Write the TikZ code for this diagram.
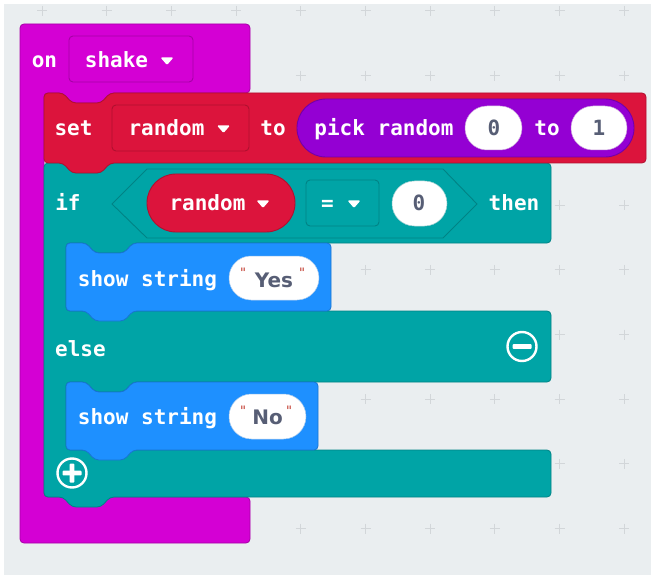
\documentclass[tikz,border=0pt]{standalone}
\usepackage{fontspec}
\newfontfamily\blkmono{DejaVu Sans Mono}
\newfontfamily\blksans{DejaVu Sans}
\definecolor{bggray}{HTML}{EAEEF0}
\definecolor{gridc}{HTML}{D2D6D9}
\definecolor{mag}{HTML}{D400D4}
\definecolor{magd}{HTML}{A600A6}
\definecolor{crim}{HTML}{DC143C}
\definecolor{crimd}{HTML}{B0102F}
\definecolor{purp}{HTML}{9400D3}
\definecolor{purpd}{HTML}{7300A8}
\definecolor{teal}{HTML}{00A4A6}
\definecolor{teald}{HTML}{008385}
\definecolor{blu}{HTML}{1E90FF}
\definecolor{blud}{HTML}{1874D0}
\definecolor{valtxt}{HTML}{575E75}
\definecolor{quot}{HTML}{C23A2E}
\tikzset{
  blk/.style={rounded corners=4pt, line width=0.8pt},
  ddbox/.style={rounded corners=4pt, line width=0.9pt},
  pilltxt/.style={text=white, font=\blkmono\bfseries\fontsize{21}{25}\selectfont, inner sep=0pt, anchor=base},
  valtext/.style={text=valtxt, font=\blkmono\bfseries\fontsize{21}{25}\selectfont, inner sep=0pt, anchor=base},
  strtext/.style={text=valtxt, font=\blksans\bfseries\fontsize{20}{24}\selectfont, inner sep=0pt, anchor=base},
  qmark/.style={text=quot, font=\blksans\fontsize{13}{15}\selectfont, inner sep=0pt, anchor=base},
  tri/.style={fill=white, rounded corners=1.2pt}
}
\begin{document}
\begin{tikzpicture}[x=1pt, y=-1pt]
\useasboundingbox (0,0) rectangle (651,575);
\fill[white] (0,0) rectangle (651,575);
\fill[bggray] (4,4) rectangle (651,575);
% grid
\foreach \i in {0,...,9}{
  \foreach \j in {0,...,8}{
    \draw[gridc, line width=1pt] ({42+64.7*\i-5},{11+64.7*\j}) -- ({42+64.7*\i+5},{11+64.7*\j});
    \draw[gridc, line width=1pt] ({42+64.7*\i},{11+64.7*\j-5}) -- ({42+64.7*\i},{11+64.7*\j+5});
  }
}
% on shake (hat block)
\draw[blk, fill=mag, draw=magd] (20,24) -- (250,24) -- (250,93) -- (110,93) -- (101,103) -- (72,103) -- (63,93) -- (44,93) -- (44,497) -- (250,497) -- (250,543) -- (20,543) -- cycle;
\draw[ddbox, fill=mag, draw=magd] (69,36) rectangle (193,82);
\node[pilltxt] (on) at (44.5,68) {on};
\node[pilltxt] (shake) at (116.5,68) {shake};
\fill[tri] (160.5,57.5) -- (173.5,57.5) -- (167,65) -- cycle;

% if block
\draw[blk, fill=teal, draw=teald] (44,163) -- (63,163) -- (72,173) -- (101,173) -- (110,163) -- (551,163) -- (551,243) -- (133,243) -- (124,253) -- (95,253) -- (86,243) -- (66,243) -- (66,311) -- (551,311) -- (551,382) -- (133,382) -- (124,392) -- (95,392) -- (86,382) -- (66,382) -- (66,450) -- (551,450) -- (551,497) -- (110,497) -- (101,507) -- (72,507) -- (63,497) -- (44,497) -- cycle;

% set block
\draw[blk, fill=crim, draw=crimd] (44,93) -- (63,93) -- (72,103) -- (101,103) -- (110,93) -- (646,93) -- (646,163) -- (110,163) -- (101,173) -- (72,173) -- (63,163) -- (44,163) -- cycle;
\node[pilltxt] (set) at (73.5,136) {set};
\draw[ddbox, fill=crim, draw=crimd] (112,105) rectangle (249,151);
\node[pilltxt] (setvar) at (166.5,136) {random};
\fill[tri] (217,125.5) -- (230,125.5) -- (223.5,133) -- cycle;
\node[pilltxt] (setto) at (273,136) {to};
% pick random
\draw[fill=purp, draw=purpd, line width=0.9pt, rounded corners=28.9pt] (297,99) rectangle (634,157);
\node[pilltxt] (pick) at (384,136) {pick random};
\draw[fill=white, draw=purpd!40, line width=0.5pt, rounded corners=21.9pt] (465,106) rectangle (522,150);
\node[valtext] (lo) at (494,136) {0};
\node[pilltxt] (pickto) at (547,136) {to};
\draw[fill=white, draw=purpd!40, line width=0.5pt, rounded corners=21.9pt] (571,106) rectangle (627,150);
\node[valtext] (hi) at (599,136) {1};

% if header
\node[pilltxt] (if) at (68,211) {if};
\draw[fill=teal, draw=teald, line width=0.9pt] (112,204) -- (147,169) -- (443,169) -- (477,204) -- (443,238) -- (147,238) -- cycle;
\draw[fill=crim, draw=crimd, line width=0.9pt, rounded corners=28.9pt] (147,174) rectangle (295,232);
\node[pilltxt] (ifvar) at (207.5,211) {random};
\fill[tri] (256.5,200.5) -- (269.5,200.5) -- (263,208) -- cycle;
\draw[ddbox, fill=teal, draw=teald] (306,180) rectangle (379,226);
\node[pilltxt] (eq) at (327.5,211) {=};
\fill[tri] (347.5,200.5) -- (360.5,200.5) -- (354,208) -- cycle;
\draw[fill=white, draw=teald!40, line width=0.5pt, rounded corners=22.4pt] (392,181) rectangle (447,226);
\node[valtext] (zero) at (419,211) {0};
\node[pilltxt] (then) at (514,211) {then};

% show string Yes
\draw[blk, fill=blu, draw=blud] (66,243) -- (86,243) -- (95,253) -- (124,253) -- (133,243) -- (331,243) -- (331,311) -- (133,311) -- (124,321) -- (95,321) -- (86,311) -- (66,311) -- cycle;
\node[pilltxt] (show1) at (147.5,286) {show string};
\draw[fill=white, draw=blud!40, line width=0.5pt, rounded corners=21.9pt] (229,256) rectangle (319,300);
\node[qmark] (q1a) at (243,277) {"};
\node[strtext] (yes) at (274,287) {Yes};
\node[qmark] (q1b) at (302,277) {"};

% else
\node[pilltxt] (else) at (80.5,356) {else};
\draw[white, line width=2.4pt] (522,346.5) circle[radius=14.5pt];
\fill[white, rounded corners=0.8pt] (512.5,344.2) rectangle (531.5,348.8);

% show string No
\draw[blk, fill=blu, draw=blud] (66,382) -- (86,382) -- (95,392) -- (124,392) -- (133,382) -- (318,382) -- (318,450) -- (133,450) -- (124,460) -- (95,460) -- (86,450) -- (66,450) -- cycle;
\node[pilltxt] (show2) at (147.5,424) {show string};
\draw[fill=white, draw=blud!40, line width=0.5pt, rounded corners=22.4pt] (229,394) rectangle (306,439);
\node[qmark] (q2a) at (243,415) {"};
\node[strtext] (no) at (267.5,424) {No};
\node[qmark] (q2b) at (289,415) {"};

% plus button
\draw[white, line width=2.4pt] (72,473) circle[radius=14.5pt];
\fill[white, rounded corners=0.8pt] (62.5,470.7) rectangle (81.5,475.3);
\fill[white, rounded corners=0.8pt] (69.7,463.5) rectangle (74.3,482.5);
\end{tikzpicture}
\end{document}
